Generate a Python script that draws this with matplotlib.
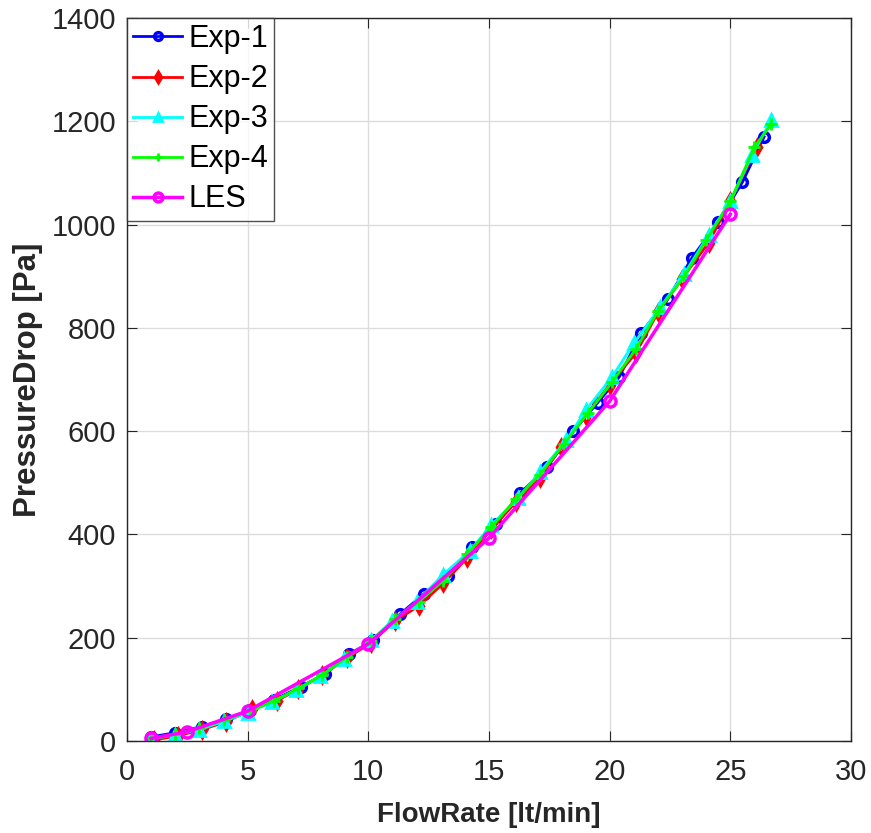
import matplotlib
matplotlib.use("Agg")
import matplotlib.pyplot as plt

plt.rcParams['font.family'] = ['Liberation Sans', 'DejaVu Sans']

# Measured pressure drop vs flow rate, four experimental runs plus the LES result
q_exp1 = [1.0, 2.0, 3.1, 4.1, 5.1, 6.1, 7.2, 8.2, 9.2, 10.2, 11.3, 12.3, 13.3,
          14.3, 15.3, 16.3, 17.4, 18.5, 19.5, 20.4, 21.3, 22.4, 23.4, 24.5, 25.5, 26.4]
dp_exp1 = [8, 16, 28, 42, 60, 80, 105, 130, 168, 195, 245, 285, 320,
           375, 420, 480, 530, 600, 655, 705, 790, 855, 935, 1005, 1082, 1170]

q_exp2 = [1.1, 2.1, 3.1, 4.1, 5.2, 6.2, 7.1, 8.1, 9.1, 10.1, 11.1, 12.1, 13.1,
          14.1, 15.1, 16.1, 17.1, 18.0, 19.0, 20.0, 21.1, 22.0, 23.0, 24.1, 25.0, 26.1]
dp_exp2 = [2, 10, 22, 37, 62, 78, 100, 128, 160, 190, 232, 262, 305,
           355, 410, 462, 510, 570, 630, 690, 752, 830, 895, 965, 1045, 1150]

q_exp3 = [1.0, 2.0, 3.0, 4.0, 5.0, 6.0, 7.0, 8.0, 9.0, 10.1, 11.0, 12.0, 13.1,
          14.2, 15.1, 16.2, 17.1, 18.2, 19.0, 20.1, 21.0, 22.1, 23.1, 24.1, 25.0, 25.9, 26.7]
dp_exp3 = [4, 12, 22, 38, 55, 76, 98, 125, 158, 195, 232, 270, 322,
           368, 418, 470, 520, 582, 640, 705, 770, 840, 905, 980, 1045, 1135, 1202]

q_exp4 = [1.0, 2.0, 3.0, 4.0, 5.1, 6.1, 7.1, 8.1, 9.1, 10.1, 11.1, 12.1, 13.1,
          14.1, 15.1, 16.1, 17.1, 18.1, 19.1, 20.1, 21.1, 22.0, 23.1, 24.0, 25.0, 26.0, 26.7]
dp_exp4 = [5, 13, 25, 40, 58, 78, 102, 128, 162, 193, 236, 270, 310,
           362, 414, 468, 515, 575, 635, 695, 760, 832, 900, 970, 1045, 1150, 1195]

q_les = [1.0, 2.5, 5.0, 10.0, 15.0, 20.0, 25.0]
dp_les = [5, 18, 58, 188, 393, 658, 1020]

fig = plt.figure(figsize=(8.71, 8.33), dpi=100)
ax = fig.add_axes([127 / 871, 1 - 741 / 833, 724 / 871, 723 / 833])

ax.plot(q_exp1, dp_exp1, color='#0000ff', marker='o', mfc='none', mew=2.5, ms=7, lw=2, label='Exp-1')
ax.plot(q_exp2, dp_exp2, color='#ff0000', marker='d', mfc='none', mew=2.5, ms=7, lw=2, label='Exp-2')
ax.plot(q_exp3, dp_exp3, color='#00ffff', marker='^', mfc='#00ffff', mew=2, ms=8, lw=2, label='Exp-3')
ax.plot(q_exp4, dp_exp4, color='#00ff00', marker='+', mew=2, ms=8, lw=2, label='Exp-4')
ax.plot(q_les, dp_les, color='#ff00ff', marker='o', mfc='none', mew=2.5, ms=8, lw=2.5, label='LES')

ax.set_xlim(0, 30)
ax.set_ylim(0, 1400)
ax.set_xticks(range(0, 31, 5))
ax.set_yticks(range(0, 1401, 200))
ax.grid(True, color='#dcdcdc', lw=1)
ax.set_axisbelow(True)
ax.tick_params(direction='in', top=True, right=True, labelsize=21, length=7,
               colors='#262626')
ax.tick_params(axis='x', pad=12)
ax.tick_params(axis='y', pad=8)
for s in ax.spines.values():
    s.set_color('#262626')
    s.set_linewidth(1)

ax.set_xlabel('FlowRate [lt/min]', fontsize=20, fontweight='bold', color='#262626', labelpad=12)
ax.set_ylabel('PressureDrop [Pa]', fontsize=22.5, fontweight='bold', color='#262626', labelpad=6)

leg = ax.legend(loc='upper left', fontsize=22, frameon=True, fancybox=False,
                borderpad=0.2, labelspacing=0.33, handlelength=1.6,
                handletextpad=0.2, borderaxespad=0.0, markerscale=0.8)
leg.get_frame().set_edgecolor('#262626')
leg.get_frame().set_linewidth(1)

fig.savefig('out.png', dpi=100)
